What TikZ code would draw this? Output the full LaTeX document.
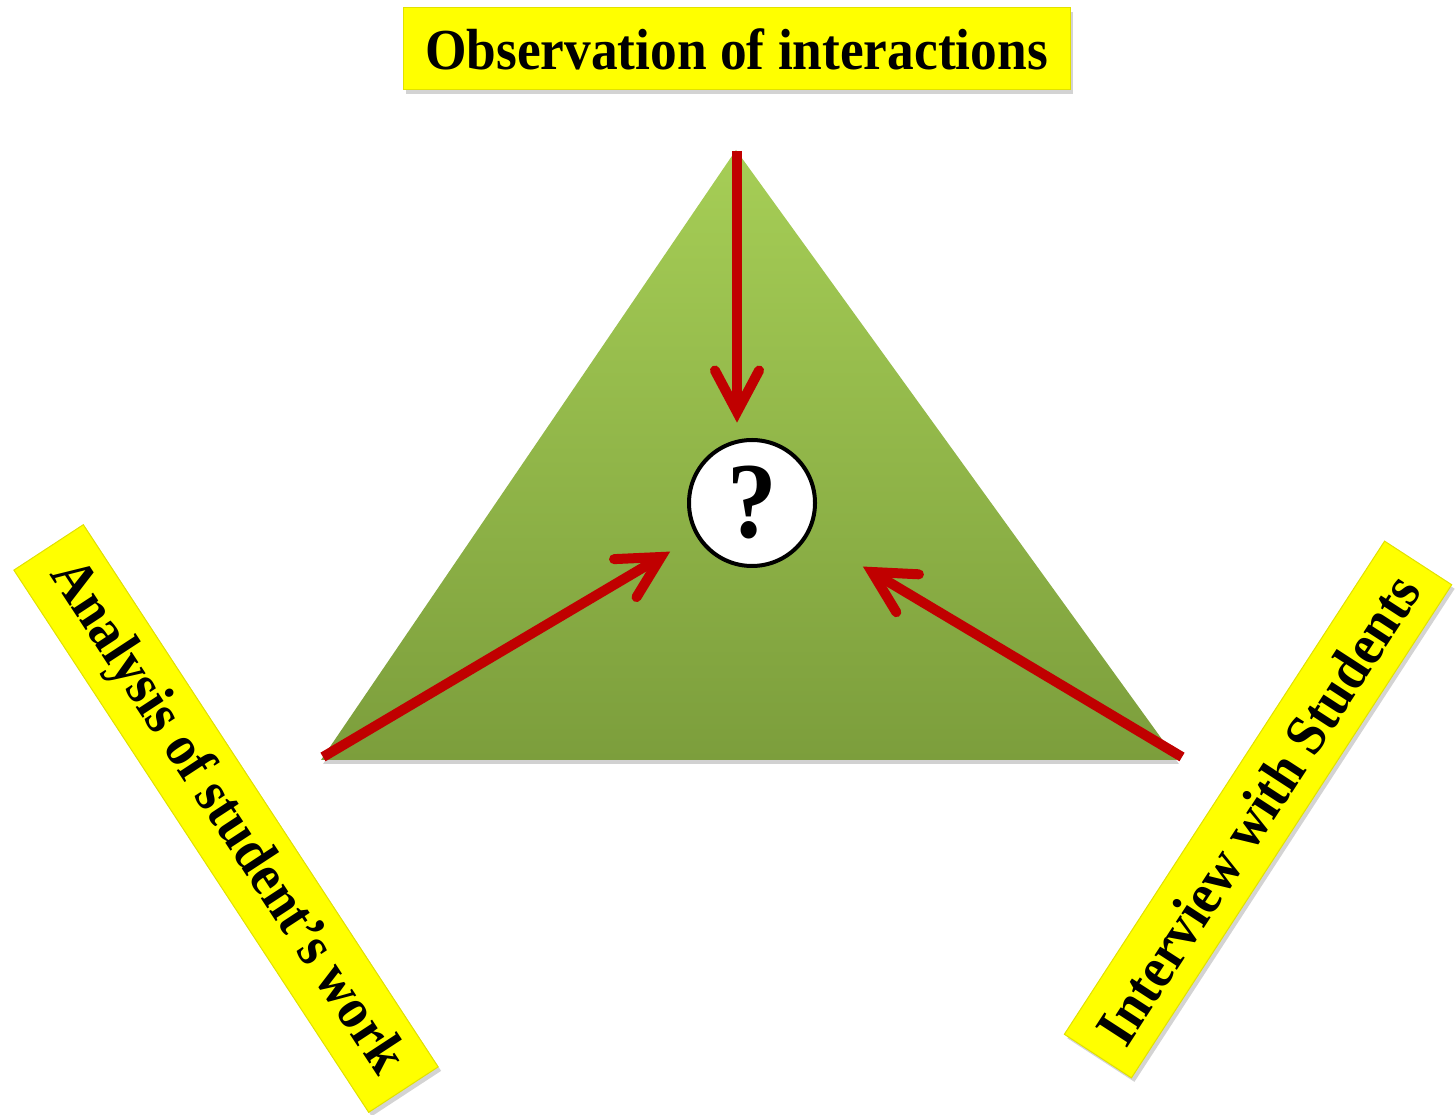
\documentclass[tikz,border=0pt]{standalone}
\usepackage{fontspec}
\setmainfont{Liberation Serif}[FakeStretch=0.92]
\usetikzlibrary{calc,shadows}
\definecolor{arrred}{RGB}{192,0,0}
\definecolor{boxyellow}{RGB}{255,255,0}
\definecolor{boxedge}{RGB}{225,225,0}
\definecolor{greentop}{RGB}{166,206,86}
\definecolor{greenbot}{RGB}{124,158,60}
\tikzset{
  labelbox/.style={fill=boxyellow, draw=boxedge, line width=1pt,
    inner sep=0pt, align=center,
    font=\fontsize{58}{62}\selectfont\bfseries,
    drop shadow={opacity=0.35, shadow xshift=3pt, shadow yshift=-4pt}},
  redline/.style={draw=arrred, line width=10pt, line cap=butt},
  redhead/.style={draw=arrred, line width=10pt, line cap=round, line join=miter},
  qcircle/.style={circle, draw=black, line width=4pt, fill=white,
    minimum size=126pt, inner sep=0pt,
    font=\fontsize{108}{108}\selectfont\bfseries}
}
\begin{document}
\begin{tikzpicture}[x=1pt,y=1pt]
\useasboundingbox (0,0) rectangle (1455,1114);
% triangle
\coordinate (apex) at (736,964);
\coordinate (bl) at (321,354);
\coordinate (br) at (1177,354);
\fill[black, opacity=0.18] ($(apex)+(2,-4)$) -- ($(bl)+(2,-4)$) -- ($(br)+(2,-4)$) -- cycle;
\shade[top color=greentop, bottom color=greenbot] (apex) -- (bl) -- (br) -- cycle;
% labels
\node[labelbox, minimum width=667pt, minimum height=82pt] (obs) at (736.5,1065) {Observation of interactions};
\node[labelbox, minimum width=648pt, minimum height=83pt, rotate=-56.8] (ana) at (226,295.5) {Analysis of student’s work};
\node[labelbox, minimum width=588pt, minimum height=80pt, rotate=57] (int) at (1258,304.5) {Interview with Students};
% centre
\node[qcircle] (q) at (752,611) {?};
% arrows
\coordinate (s1) at (737,963);
\coordinate (t1) at (737,702);
\coordinate (s2) at (323,357);
\coordinate (t2) at (661,557);
\coordinate (s3) at (1182,357);
\coordinate (t3) at (872,542);
\draw[redline] (s1) -- (t1);
\draw[redline] (s2) -- (t2);
\draw[redline] (s3) -- (t3);
\draw[redhead] ($(t1)!47pt!28:(s1)$) -- (t1) -- ($(t1)!47pt!-28:(s1)$);
\draw[redhead] ($(t2)!47pt!28:(s2)$) -- (t2) -- ($(t2)!47pt!-28:(s2)$);
\draw[redhead] ($(t3)!47pt!28:(s3)$) -- (t3) -- ($(t3)!47pt!-28:(s3)$);
\end{tikzpicture}
\end{document}
